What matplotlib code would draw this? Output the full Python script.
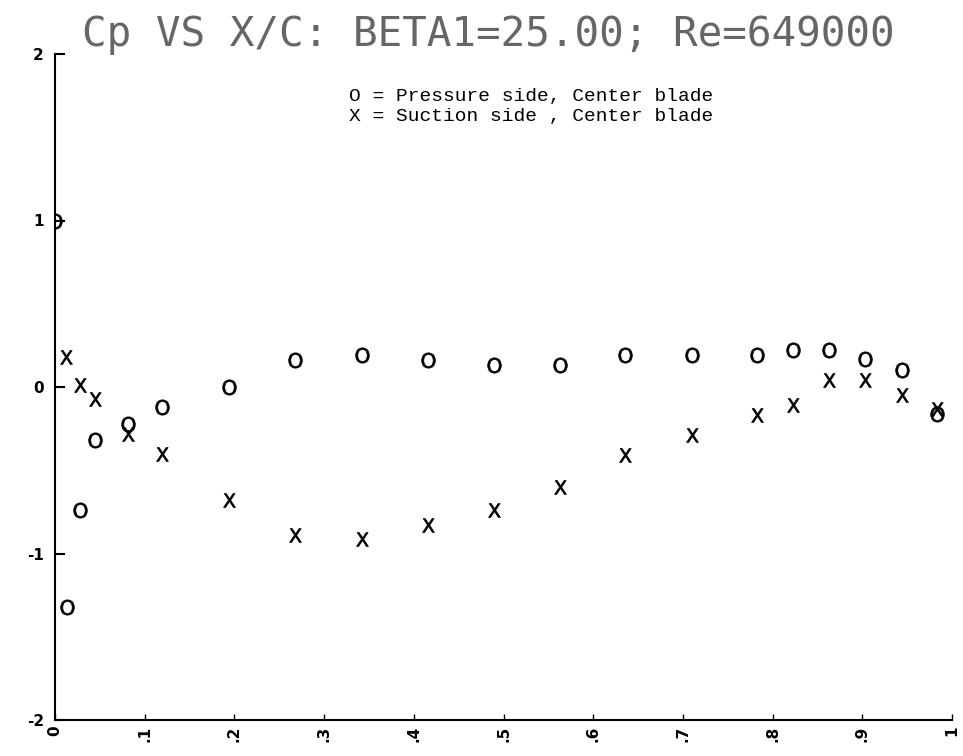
import matplotlib.pyplot as plt

# datos (x/c, Cp)
x_presion = [0.0, 0.013, 0.028, 0.045, 0.081, 0.119, 0.194, 0.268, 0.342, 0.416,
             0.489, 0.563, 0.636, 0.710, 0.783, 0.823, 0.863, 0.903, 0.944, 0.983]
cp_presion = [1.0, -1.32, -0.74, -0.32, -0.22, -0.12, 0.0, 0.16, 0.19, 0.16,
              0.13, 0.13, 0.19, 0.19, 0.19, 0.22, 0.22, 0.17, 0.10, -0.16]

x_succion = [0.012, 0.028, 0.045, 0.081, 0.119, 0.194, 0.268, 0.342, 0.416,
             0.489, 0.563, 0.636, 0.710, 0.783, 0.823, 0.863, 0.903, 0.944, 0.983]
cp_succion = [0.18, 0.01, -0.07, -0.28, -0.40, -0.68, -0.89, -0.91, -0.83,
              -0.74, -0.60, -0.41, -0.29, -0.17, -0.11, 0.04, 0.04, -0.05, -0.13]

x_ticks = [0, 0.1, 0.2, 0.3, 0.4, 0.5, 0.6, 0.7, 0.8, 0.9, 1.0]
x_etiquetas = ['0', '.1', '.2', '.3', '.4', '.5', '.6', '.7', '.8', '.9', '1']
y_ticks = [-2, -1, 0, 1, 2]
y_etiquetas = ['-2', '-1', '0', '1', '2']

titulo = 'Cp VS X/C: BETA1=25.00; Re=649000'
leyenda = ['O = Pressure side, Center blade',
           'X = Suction side , Center blade']

fig = plt.figure(figsize=(9.63, 7.56), dpi=100)
ax = fig.add_axes([55 / 963, 36 / 756, 897 / 963, 666 / 756])

ax.plot(x_presion, cp_presion, linestyle='none', marker=r'$\mathrm{O}$',
        markersize=11, color='black', markeredgewidth=0.5)
ax.plot(x_succion, cp_succion, linestyle='none', marker=r'$\mathrm{X}$',
        markersize=10, color='black', markeredgewidth=0.5)

ax.set_xlim(0, 1)
ax.set_ylim(-2, 2)
ax.spines['top'].set_visible(False)
ax.spines['right'].set_visible(False)
ax.spines['left'].set_linewidth(1.5)
ax.spines['bottom'].set_linewidth(1.5)

ax.set_xticks(x_ticks)
ax.set_xticklabels(x_etiquetas, rotation=90, fontsize=11, fontweight='bold')
ax.set_yticks(y_ticks)
ax.set_yticklabels(y_etiquetas, fontsize=11, fontweight='bold')
ax.tick_params(axis='x', direction='in', length=4, width=1, pad=4)
ax.tick_params(axis='y', direction='in', length=7, width=1.5, pad=8)

fig.text(82 / 963, 1 - 46 / 756, titulo, family='DejaVu Sans Mono',
         fontsize=29.5, color='#666666', va='baseline', ha='left')
fig.text(349 / 963, 1 - 96 / 756, leyenda[0], family='Liberation Mono',
         fontsize=14, color='black', va='center', ha='left')
fig.text(349 / 963, 1 - 116 / 756, leyenda[1], family='Liberation Mono',
         fontsize=14, color='black', va='center', ha='left')

fig.savefig('out.png', dpi=100)
